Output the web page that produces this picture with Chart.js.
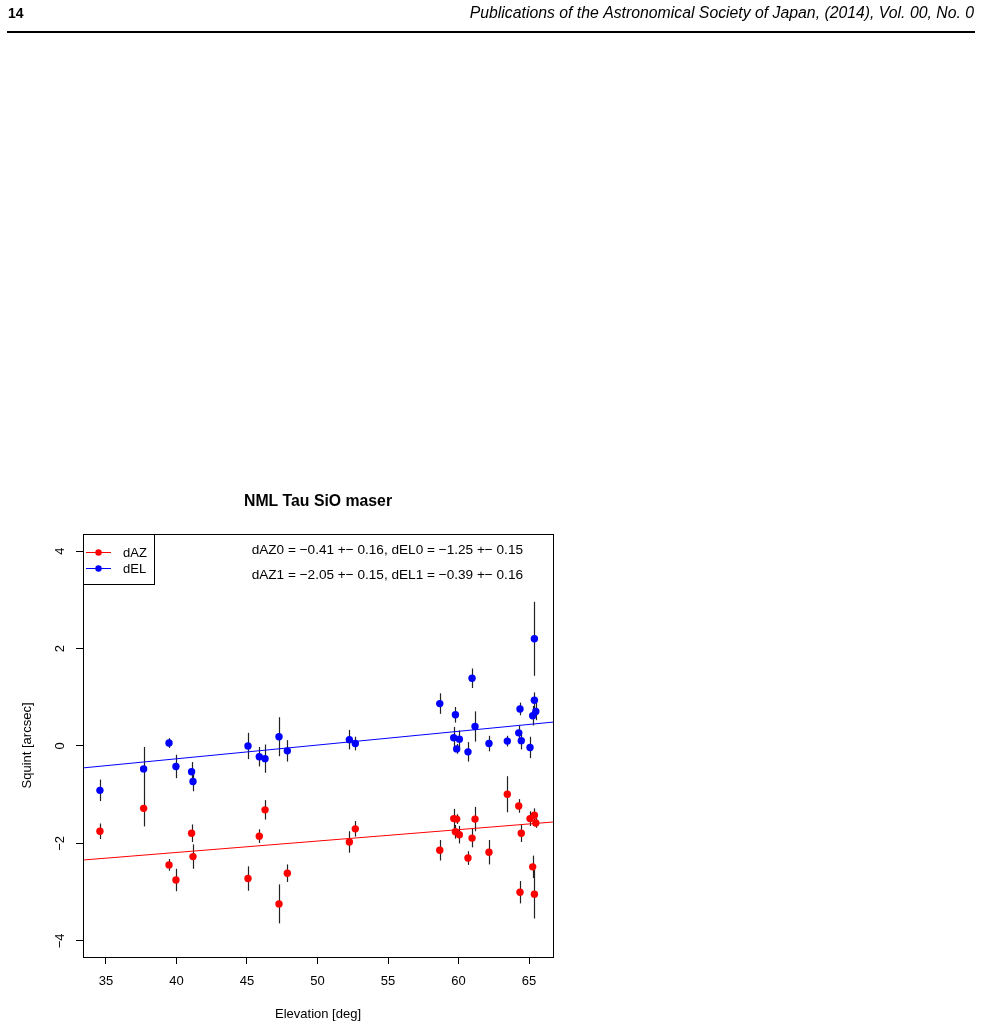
<!DOCTYPE html>
<html>
<head>
<meta charset="utf-8">
<script src="https://cdn.jsdelivr.net/npm/chart.js@4"></script>
<style>
	html, body { margin: 0; padding: 0; background: #fff; }
	#wrap { position: relative; width: 981px; height: 1028px; }
	#squintChart { display: block; width: 981px; height: 1028px; }
</style>
</head>
<body>
<div id="wrap"><canvas id="squintChart" width="981" height="1028"></canvas></div>
<script>
// Elevation of each scan [deg]
const elevation = [34.57, 37.67, 39.47, 39.96, 41.07, 41.17, 45.07, 45.87, 46.28, 47.27, 47.86,
	52.26, 52.68, 58.67, 59.66, 59.78, 59.87, 60.06, 60.67, 60.96, 61.17, 62.16, 63.46,
	64.27, 64.36, 64.45, 65.07, 65.26, 65.38, 65.38, 65.48];

// Azimuth squint [arcsec] and its error
const dAZ = [-1.75, -1.28, -2.44, -2.75, -1.79, -2.27, -2.72, -1.85, -1.31, -3.24, -2.61,
	-1.97, -1.70, -2.14, -1.49, -1.76, -1.50, -1.82, -2.30, -1.89, -1.50, -2.18, -0.99,
	-1.23, -3.00, -1.79, -1.49, -2.48, -1.42, -3.04, -1.58];
const dAZerr = [0.16, 0.37, 0.12, 0.23, 0.18, 0.25, 0.25, 0.14, 0.20, 0.40, 0.18,
	0.22, 0.16, 0.21, 0.20, 0.14, 0.10, 0.18, 0.14, 0.19, 0.25, 0.25, 0.37,
	0.14, 0.23, 0.18, 0.15, 0.23, 0.14, 0.50, 0.10];

// Elevation squint [arcsec] and its error
const dEL = [-0.91, -0.47, 0.06, -0.42, -0.53, -0.73, 0.00, -0.22, -0.26, 0.19, -0.10,
	0.13, 0.05, 0.87, 0.17, 0.64, -0.06, 0.14, -0.12, 1.39, 0.40, 0.05, 0.10,
	0.27, 0.76, 0.11, -0.03, 0.62, 2.20, 0.94, 0.71];
const dELerr = [0.22, 0.45, 0.10, 0.24, 0.20, 0.20, 0.27, 0.20, 0.29, 0.40, 0.22,
	0.20, 0.14, 0.21, 0.22, 0.16, 0.10, 0.18, 0.20, 0.20, 0.31, 0.16, 0.11,
	0.14, 0.13, 0.18, 0.22, 0.20, 0.76, 0.16, 0.18];

// Fitted lines, sampled at both ends of the plot
const fitElevation = [33.37, 66.7];
const fitAZ = [-2.34, -1.56];
const fitEL = [-0.45, 0.49];

// Axis ticks
const xTicks = [35, 40, 45, 50, 55, 60, 65];
const yTicks = [-4, -2, 0, 2, 4];

const fitText = [
	'dAZ0 = \u22120.41 +\u2212 0.16, dEL0 = \u22121.25 +\u2212 0.15',
	'dAZ1 = \u22122.05 +\u2212 0.15, dEL1 = \u22120.39 +\u2212 0.16'
];

const FONT = '"Liberation Sans", Arial, Helvetica, sans-serif';

function toPoints(xs, ys) {
	return xs.map((x, i) => ({ x: x, y: ys[i] }));
}

// Error bars, drawn under the points
const errorBars = {
	id: 'errorBars',
	beforeDatasetsDraw(chart) {
		let ctx = chart.ctx, xs = chart.scales.x, ys = chart.scales.y;
		ctx.save();
		ctx.strokeStyle = '#222';
		ctx.lineWidth = 1.2;
		[[dAZ, dAZerr], [dEL, dELerr]].forEach(([vals, errs]) => {
			vals.forEach((v, i) => {
				let px = Math.round(xs.getPixelForValue(elevation[i])) + 0.5;
				ctx.beginPath();
				ctx.moveTo(px, ys.getPixelForValue(v - errs[i]));
				ctx.lineTo(px, ys.getPixelForValue(v + errs[i]));
				ctx.stroke();
			});
		});
		ctx.restore();
	}
};

// Page header, box, R style labels and legend
const decorations = {
	id: 'decorations',
	afterDraw(chart) {
		let ctx = chart.ctx, a = chart.chartArea, ys = chart.scales.y;
		ctx.save();

		// header
		ctx.fillStyle = '#000';
		ctx.textBaseline = 'alphabetic';
		ctx.font = 'bold 14px ' + FONT;
		ctx.textAlign = 'left';
		ctx.fillText('14', 8, 18);
		ctx.font = 'italic 15.8px ' + FONT;
		ctx.textAlign = 'right';
		ctx.fillText('Publications of the Astronomical Society of Japan, (2014), Vol. 00, No. 0', 974, 18);
		ctx.fillRect(7, 31, 968, 2);

		// plot box
		ctx.strokeStyle = '#000';
		ctx.lineWidth = 1;
		ctx.strokeRect(a.left + 0.5, a.top + 0.5, a.right - a.left, a.bottom - a.top);

		// title and axis titles
		ctx.textAlign = 'center';
		ctx.textBaseline = 'middle';
		ctx.font = 'bold 15.8px ' + FONT;
		ctx.fillText('NML Tau SiO maser', (a.left + a.right) / 2, 502);
		ctx.font = '13px ' + FONT;
		ctx.fillText('Elevation [deg]', (a.left + a.right) / 2, 1014);

		ctx.save();
		ctx.translate(27, (a.top + a.bottom) / 2);
		ctx.rotate(-Math.PI / 2);
		ctx.fillText('Squint [arcsec]', 0, 0);
		ctx.restore();

		// y tick labels, rotated like R
		yTicks.forEach(t => {
			ctx.save();
			ctx.translate(60, ys.getPixelForValue(t));
			ctx.rotate(-Math.PI / 2);
			ctx.fillText(t < 0 ? '\u2212' + Math.abs(t) : String(t), 0, 0);
			ctx.restore();
		});

		// fit results
		ctx.font = '13.6px ' + FONT;
		ctx.textAlign = 'right';
		ctx.fillText(fitText[0], 523, 550);
		ctx.fillText(fitText[1], 523, 575);

		// legend
		ctx.font = '13px ' + FONT;
		ctx.fillStyle = '#fff';
		ctx.fillRect(a.left + 1, a.top + 1, 71, 49);
		ctx.strokeRect(a.left + 0.5, a.top + 0.5, 71, 50);
		[['dAZ', '#ff0000', 552], ['dEL', '#0000ff', 568]].forEach(([name, col, y]) => {
			ctx.strokeStyle = col;
			ctx.fillStyle = col;
			ctx.beginPath();
			ctx.moveTo(86, y + 0.5);
			ctx.lineTo(111, y + 0.5);
			ctx.stroke();
			ctx.beginPath();
			ctx.arc(98.5, y + 0.5, 3.2, 0, Math.PI * 2);
			ctx.fill();
			ctx.fillStyle = '#000';
			ctx.textAlign = 'left';
			ctx.fillText(name, 123, y + 1);
		});

		ctx.restore();
	}
};

let ctx = document.querySelector('#squintChart');
let chart = new Chart(ctx, {
	type: 'scatter',
	data: {
		datasets: [
			{
				label: 'dAZ fit',
				type: 'line',
				data: toPoints(fitElevation, fitAZ),
				borderColor: '#ff0000',
				borderWidth: 1,
				pointRadius: 0,
			},
			{
				label: 'dEL fit',
				type: 'line',
				data: toPoints(fitElevation, fitEL),
				borderColor: '#0000ff',
				borderWidth: 1,
				pointRadius: 0,
			},
			{
				label: 'dAZ',
				data: toPoints(elevation, dAZ),
				backgroundColor: '#ff0000',
				borderWidth: 0,
				pointRadius: 3.7,
			},
			{
				label: 'dEL',
				data: toPoints(elevation, dEL),
				backgroundColor: '#0000ff',
				borderWidth: 0,
				pointRadius: 3.7,
			},
		]
	},
	options: {
		responsive: false,
		animation: false,
		devicePixelRatio: 1,
		layout: { padding: { left: 0, top: 534, right: 428, bottom: 0 } },
		plugins: {
			legend: { display: false },
			tooltip: { enabled: false },
			title: { display: false },
		},
		scales: {
			x: {
				type: 'linear',
				min: 33.37,
				max: 66.7,
				afterBuildTicks: s => { s.ticks = xTicks.map(v => ({ value: v })); },
				afterFit: s => { s.height = 71; },
				grid: { drawOnChartArea: false, drawTicks: true, tickLength: 7, tickColor: '#000', tickWidth: 1 },
				border: { display: true, color: '#000', width: 1 },
				ticks: { color: '#000', padding: 10, font: { family: FONT, size: 13 }, maxRotation: 0 },
			},
			y: {
				type: 'linear',
				min: -4.33,
				max: 4.35,
				afterBuildTicks: s => { s.ticks = yTicks.map(v => ({ value: v })); },
				afterFit: s => { s.width = 83; },
				grid: { drawOnChartArea: false, drawTicks: true, tickLength: 7, tickColor: '#000', tickWidth: 1 },
				border: { display: true, color: '#000', width: 1 },
				ticks: { color: 'rgba(0,0,0,0)', font: { family: FONT, size: 13 } },
			},
		}
	},
	plugins: [errorBars, decorations]
});
</script>
</body>
</html>
